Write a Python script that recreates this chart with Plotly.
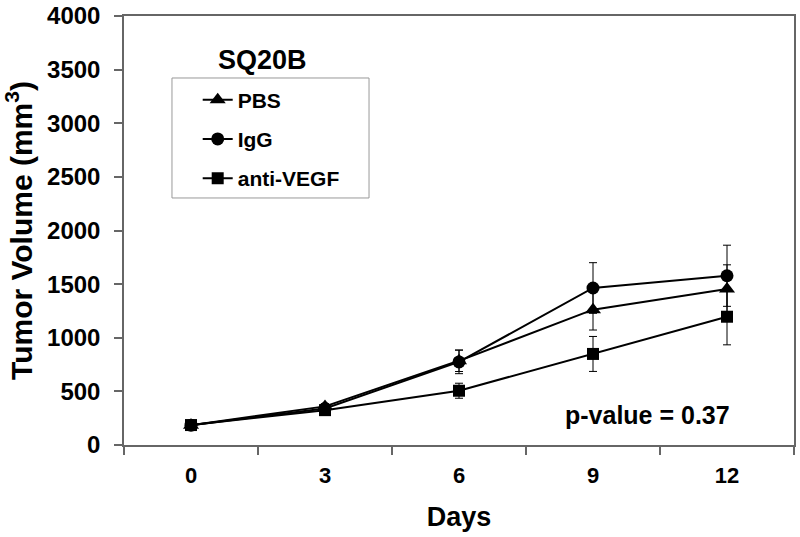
import plotly.graph_objects as go

days = ["0", "3", "6", "9", "12"]
pbs = [185, 360, 785, 1262, 1455]
pbs_err = [20, 25, 100, 190, 225]
igg = [185, 340, 775, 1464, 1578]
igg_err = [20, 25, 110, 236, 285]
avegf = [186, 325, 506, 849, 1196]
avegf_err = [20, 25, 70, 163, 262]

series = [
    ("PBS", pbs, pbs_err, "triangle-up", 14),
    ("IgG", igg, igg_err, "circle", 13),
    ("anti-VEGF", avegf, avegf_err, "square", 12),
]

FONT = "Arial, Liberation Sans, Helvetica, sans-serif"
AXC = "#666666"

fig = go.Figure()
for i, (name, vals, errs, sym, size) in enumerate(series):
    fig.add_trace(go.Scatter(
        x=days, y=vals, name=name, mode="lines+markers",
        line=dict(color="black", width=2),
        marker=dict(symbol=sym, size=size, color="black"),
        error_y=dict(type="data", array=errs, visible=True, color="black", thickness=1, width=4),
        legendgroup=f"g{i}",
    ))

fig.update_layout(
    width=800, height=537,
    margin=dict(l=124, r=6, t=16, b=92, autoexpand=False),
    paper_bgcolor="white", plot_bgcolor="white",
    font=dict(family=FONT, color="black", size=22, weight="bold"),
    showlegend=True,
    legend=dict(
        x=0.110, y=0.852, xanchor="left", yanchor="top",
        bgcolor="rgba(0,0,0,0)", borderwidth=0,
        font=dict(size=21, family=FONT, weight="bold"),
        tracegroupgap=9, traceorder="grouped",
    ),
    shapes=[dict(
        type="rect", xref="paper", yref="paper",
        x0=0.0716, x1=0.3657, y0=0.5758, y1=0.8555,
        line=dict(color="#999999", width=1), fillcolor="rgba(0,0,0,0)", layer="below",
    )],
    annotations=[
        dict(text="SQ20B", xref="paper", yref="paper", x=0.206, y=0.8974,
             xanchor="center", yanchor="middle",
             showarrow=False, font=dict(size=27, family=FONT, weight="bold")),
        dict(text="p-value = 0.37", xref="paper", yref="paper", x=0.781, y=0.07,
             xanchor="center", yanchor="middle",
             showarrow=False, font=dict(size=25, family=FONT, weight="bold")),
    ],
)

fig.update_xaxes(
    type="category", categoryorder="array", categoryarray=days,
    range=[-0.5, 4.5], tickson="boundaries", automargin=False,
    ticks="outside", ticklen=8, tickcolor=AXC, tickwidth=1.5,
    ticklabelstandoff=10,
    showline=True, linecolor=AXC, linewidth=1.5, mirror=True,
    showgrid=False, zeroline=False,
    tickfont=dict(size=22, family=FONT, weight="bold"),
    title=dict(text="Days", font=dict(size=27, family=FONT, weight="bold"), standoff=20),
)
fig.update_yaxes(
    range=[0, 4000], tick0=0, dtick=500, automargin=False,
    ticks="outside", ticklen=8, tickcolor=AXC, tickwidth=1.5,
    ticklabelstandoff=9,
    showline=True, linecolor=AXC, linewidth=1.5, mirror=True,
    showgrid=False, zeroline=False,
    tickfont=dict(size=24, family=FONT, weight="bold"),
    title=dict(text="Tumor Volume (mm<sup>3</sup>)", font=dict(size=30, family=FONT, weight="bold"), standoff=8),
)

fig.write_html(
    "out.html",
    config={"responsive": False, "displayModeBar": False},
    post_script="document.documentElement.style.margin='0';document.body.style.margin='0';document.body.style.overflow='hidden';",
)
